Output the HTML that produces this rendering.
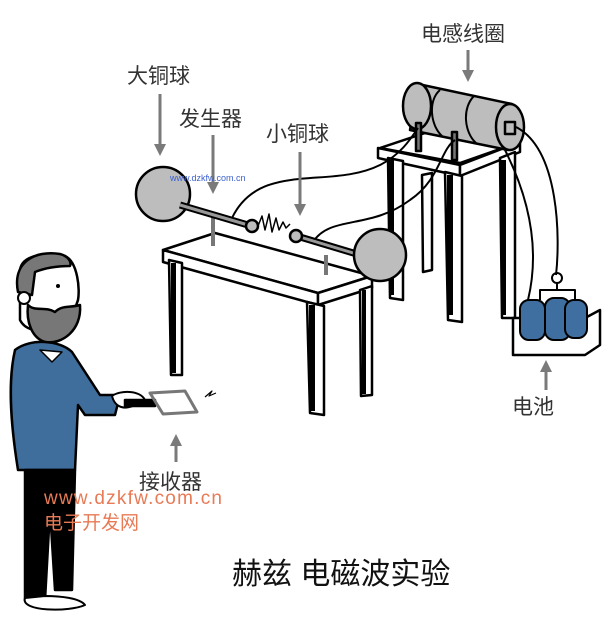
<!DOCTYPE html>
<html><head><meta charset="utf-8"><style>
body{margin:0;background:#fff;}
svg{display:block}
text{font-family:"Liberation Sans","Noto Sans CJK SC",sans-serif;}
</style></head><body>
<svg width="609" height="626" viewBox="0 0 609 626" xmlns="http://www.w3.org/2000/svg">
<defs>
<marker id="ar" markerWidth="4" markerHeight="4" refX="2" refY="2" orient="auto" markerUnits="strokeWidth">
<path d="M0,0 L4,2 L0,4 z" fill="#7a7a7a"/></marker>
</defs>
<rect width="609" height="626" fill="#fff"/>
<g stroke="#000" stroke-width="2.5" stroke-linejoin="round">
<!-- right table -->
<polygon points="380,148 460,163 520,142 440,128" fill="#fff"/>
<polygon points="378,148 378,158 460,176 460,165" fill="#fff"/>
<polygon points="460,165 460,176 520,152 520,142" fill="#fff"/>
<polygon points="388,158 403,161 403,300 390,298" fill="#fff"/>
<rect x="389" y="160" width="5" height="135" fill="#000" stroke="none"/>
<polygon points="445,172 462,176 462,322 448,320" fill="#fff"/>
<rect x="447" y="175" width="6" height="140" fill="#000" stroke="none"/>
<polygon points="500,158 515,152 515,318 502,318" fill="#fff"/>
<rect x="501" y="160" width="5" height="155" fill="#000" stroke="none"/>
<polygon points="422,175 432,173 432,270 423,272" fill="#fff"/>
<!-- coil -->
<path d="M418,84 L512,104 L508,150 L410,130 Z" fill="#bdbdbd"/>
<ellipse cx="417" cy="106" rx="14" ry="23" fill="#bdbdbd"/>
<path d="M440,90 C428,100 430,125 442,136" fill="none" stroke-width="2"/>
<path d="M474,96 C462,108 464,132 476,143" fill="none" stroke-width="2"/>
<ellipse cx="510" cy="127" rx="14" ry="23" fill="#bdbdbd"/>
<rect x="505" y="122" width="10" height="12" fill="#bdbdbd"/>
<rect x="416" y="123" width="5" height="28" fill="#777"/>
<rect x="452" y="132" width="5" height="28" fill="#777"/>
<!-- wires -->
<g fill="none" stroke-width="2">
<path d="M232,218 C260,160 330,190 380,165 C400,155 410,140 418,128"/>
<path d="M313,242 C330,215 370,230 410,200 C440,180 440,150 455,140"/>
<path d="M516,127 C560,150 560,240 556,275"/>
<path d="M505,150 C530,200 540,250 528,300"/>
</g>
<!-- left table -->
<polygon points="163,250 318,293 372,276 215,233" fill="#fff"/>
<polygon points="163,250 163,262 318,305 318,293" fill="#fff"/>
<polygon points="318,293 318,305 372,288 372,276" fill="#fff"/>
<polygon points="169,260 182,263 182,375 171,375" fill="#fff"/>
<rect x="171" y="263" width="5" height="110" fill="#000" stroke="none"/>
<polygon points="307,302 324,306 324,415 310,413" fill="#fff"/>
<rect x="309" y="305" width="6" height="106" fill="#000" stroke="none"/>
<polygon points="360,290 372,286 372,395 361,396" fill="#fff"/>
<rect x="362" y="290" width="4" height="104" fill="#000" stroke="none"/>
<!-- rods and balls -->
<line x1="213" y1="213" x2="213" y2="246" stroke="#777" stroke-width="4"/>
<line x1="326" y1="255" x2="326" y2="275" stroke="#777" stroke-width="4"/>
<circle cx="163" cy="194" r="27" fill="#bdbdbd"/>
<line x1="180" y1="205" x2="248" y2="225" stroke="#000" stroke-width="7"/>
<line x1="180" y1="205" x2="248" y2="225" stroke="#999" stroke-width="3"/>
<circle cx="252" cy="226" r="6" fill="#bdbdbd"/>
<line x1="300" y1="237" x2="360" y2="255" stroke="#000" stroke-width="7"/>
<line x1="300" y1="237" x2="360" y2="255" stroke="#999" stroke-width="3"/>
<circle cx="296" cy="236" r="6" fill="#bdbdbd"/>
<circle cx="380" cy="255" r="26" fill="#bdbdbd"/>
<path d="M258,226 l4,-10 3,14 4,-16 3,18 4,-14 3,12 4,-8 3,6 4,-4" fill="none" stroke-width="1.5"/>
<!-- battery -->
<polygon points="513,318 585,318 600,310 600,345 585,355 513,355" fill="#fff"/>
<g fill="#3f6fa0" stroke-width="2">
<rect x="520" y="300" width="25" height="40" rx="9"/>
<rect x="545" y="298" width="25" height="42" rx="9"/>
<rect x="565" y="300" width="22" height="38" rx="9"/>
</g>
<circle cx="557" cy="278" r="5" fill="none" stroke-width="2"/>
<path d="M540,300 v-10 h35 v10 M557,283 v7" fill="none" stroke-width="2"/>
<!-- person -->
<path d="M20,270 C22,255 45,252 65,256 C78,262 80,290 78,300 C70,330 30,340 20,320 Z" fill="#fff"/>
<path d="M18,292 C12,262 35,250 60,254 C68,256 72,262 70,266 C55,266 45,268 35,272 L32,295 Z" fill="#777"/>
<circle cx="24" cy="298" r="6" fill="#fff" stroke-width="2"/>
<circle cx="58" cy="286" r="2" fill="#000" stroke="none"/>
<path d="M28,305 C35,312 45,306 55,312 C62,305 70,308 80,305 C82,330 62,345 45,342 C32,338 26,322 28,305 Z" fill="#777"/>
<path d="M15,350 C30,338 60,340 72,352 L100,395 L120,395 L115,415 L85,415 L78,405 L75,470 L18,470 C10,420 8,380 15,350 Z" fill="#3f6e9c"/>
<polygon points="40,350 52,362 62,352" fill="#fff" stroke-width="1.5"/>
<path d="M25,470 L75,470 L72,590 L55,590 L50,510 L45,600 L25,600 Z" fill="#000"/>
<path d="M25,598 C20,612 70,612 85,605 C80,598 60,596 45,596 Z" fill="#fff" stroke-width="2"/>
<path d="M112,396 C120,390 140,390 145,400 L135,405 C125,410 115,408 112,396 Z" fill="#fff" stroke-width="2"/>
<rect x="125" y="400" width="30" height="6" fill="#000"/>
<path d="M150,393 L185,391 L197,412 L163,414 Z" fill="none" stroke="#777" stroke-width="3"/>
<path d="M205,397 l7,-6 -3,5 7,-3" fill="none" stroke-width="1.2"/>
</g>
<!-- arrows -->
<g stroke="#7a7a7a" stroke-width="3" marker-end="url(#ar)">
<line x1="160" y1="94" x2="160" y2="150"/>
<line x1="213" y1="135" x2="213" y2="188"/>
<line x1="300" y1="152" x2="300" y2="210"/>
<line x1="468" y1="50" x2="468" y2="76"/>
<line x1="546" y1="390" x2="546" y2="366"/>
<line x1="176" y1="462" x2="176" y2="440"/>
</g>
<g font-size="21" fill="#333">
<text x="127" y="83">大铜球</text>
<text x="179" y="126">发生器</text>
<text x="266" y="141">小铜球</text>
<text x="421" y="41">电感线圈</text>
<text x="512" y="414">电池</text>
<text x="139" y="489">接收器</text>
</g>
<text x="170" y="181" font-size="9" fill="#3b5fcf" font-family="Liberation Mono,monospace">www.dzkfw.com.cn</text>
<text x="44" y="504" font-size="19" fill="#e87a55" textLength="178">www.dzkfw.com.cn</text>
<text x="44" y="529" font-size="19" fill="#e87a55">电子开发网</text>
<text x="232" y="584" font-size="30" fill="#111">赫兹 电磁波实验</text>
</svg>
</body></html>
